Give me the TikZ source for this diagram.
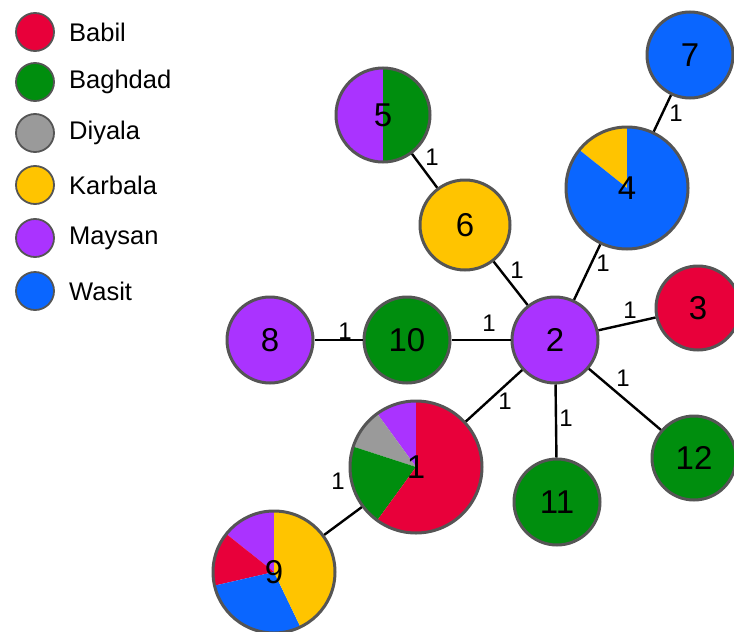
\documentclass[tikz,border=0pt]{standalone}
\usepackage{fontspec}
\setmainfont{Liberation Sans}
\definecolor{cRed}{HTML}{E8003A}
\definecolor{cGreen}{HTML}{008E0E}
\definecolor{cGray}{HTML}{9A9A9A}
\definecolor{cYellow}{HTML}{FFC400}
\definecolor{cPurple}{HTML}{AA33FF}
\definecolor{cBlue}{HTML}{0A66FF}
\definecolor{cRim}{HTML}{555555}
\newcommand{\myslice}[5]{\fill[#5] (#1) -- ++(#3:#2) arc[start angle=#3, end angle=#4, radius=#2] -- cycle;}
\tikzset{
  hap/.style={circle, draw=cRim, line width=3pt, inner sep=0pt, font=\fontsize{33}{33}\selectfont},
  edge/.style={line width=2.4pt, black},
  elab/.style={inner sep=0pt, font=\fontsize{24}{24}\selectfont},
  legdot/.style={circle, draw=cRim, line width=1.8pt, minimum size=38pt, inner sep=0pt},
  legtxt/.style={anchor=west, inner sep=0pt, font=\fontsize{25.5}{25.5}\selectfont}
}
\begin{document}
\begin{tikzpicture}[x=1pt,y=1pt]
\useasboundingbox (0,0) rectangle (734,-632);
% legend
\node[legdot, fill=cRed] (lg1) at (35,-32) {};
\node[legtxt] (lt1) at (69,-32) {Babil};
\node[legdot, fill=cGreen] (lg2) at (35,-82) {};
\node[legtxt] (lt2) at (69,-82) {Baghdad};
\node[legdot, fill=cGray] (lg3) at (35,-133) {};
\node[legtxt] (lt3) at (69,-133) {Diyala};
\node[legdot, fill=cYellow] (lg4) at (35,-185) {};
\node[legtxt] (lt4) at (69,-185) {Karbala};
\node[legdot, fill=cPurple] (lg5) at (35,-238) {};
\node[legtxt] (lt5) at (69,-238) {Maysan};
\node[legdot, fill=cBlue] (lg6) at (35,-291) {};
\node[legtxt] (lt6) at (69,-291) {Wasit};
% pie centres
\coordinate (c1) at (416,-467);
\coordinate (c4) at (627,-188);
\coordinate (c5) at (383,-115);
\coordinate (c9) at (274,-572);
% pies
\myslice{c1}{66}{90}{126}{cPurple}
\myslice{c1}{66}{126}{162}{cGray}
\myslice{c1}{66}{162}{234}{cGreen}
\myslice{c1}{66}{234}{450}{cRed}
\myslice{c4}{61}{90}{141.4}{cYellow}
\myslice{c4}{61}{141.4}{450}{cBlue}
\myslice{c5}{47}{90}{270}{cPurple}
\myslice{c5}{47}{270}{450}{cGreen}
\myslice{c9}{61}{90}{141.4}{cPurple}
\myslice{c9}{61}{141.4}{192.9}{cRed}
\myslice{c9}{61}{192.9}{295.7}{cBlue}
\myslice{c9}{61}{295.7}{450}{cYellow}
% nodes
\node[hap, minimum size=132pt] (n1) at (c1) {1};
\node[hap, minimum size=86pt, fill=cPurple] (n2) at (555,-340) {2};
\node[hap, minimum size=84pt, fill=cRed] (n3) at (698,-308) {3};
\node[hap, minimum size=122pt] (n4) at (c4) {4};
\node[hap, minimum size=94pt] (n5) at (c5) {5};
\node[hap, minimum size=90pt, fill=cYellow] (n6) at (465,-225) {6};
\node[hap, minimum size=86pt, fill=cBlue] (n7) at (690,-55) {7};
\node[hap, minimum size=86pt, fill=cPurple] (n8) at (270,-340) {8};
\node[hap, minimum size=122pt] (n9) at (c9) {9};
\node[hap, minimum size=86pt, fill=cGreen] (n10) at (407,-340) {10};
\node[hap, minimum size=86pt, fill=cGreen] (n11) at (557,-502) {11};
\node[hap, minimum size=84pt, fill=cGreen] (n12) at (694,-458) {12};
% edges
\draw[edge] (n2) -- (n6);
\draw[edge] (n6) -- (n5);
\draw[edge] (n2) -- (n4);
\draw[edge] (n4) -- (n7);
\draw[edge] (n2) -- (n3);
\draw[edge] (n2) -- (n12);
\draw[edge] (n2) -- (n11);
\draw[edge] (n2) -- (n10);
\draw[edge] (n10) -- (n8);
\draw[edge] (n2) -- (n1);
\draw[edge] (n1) -- (n9);
% edge labels
\node[elab] (e65) at (432,-157) {1};
\node[elab] (e26) at (517,-270) {1};
\node[elab] (e24) at (603,-263) {1};
\node[elab] (e47) at (676,-113) {1};
\node[elab] (e23) at (630,-310) {1};
\node[elab] (e212) at (623,-378) {1};
\node[elab] (e211) at (566,-418) {1};
\node[elab] (e210) at (489,-323) {1};
\node[elab] (e108) at (345,-331) {1};
\node[elab] (e21) at (505,-401) {1};
\node[elab] (e19) at (338,-481) {1};
\end{tikzpicture}
\end{document}
